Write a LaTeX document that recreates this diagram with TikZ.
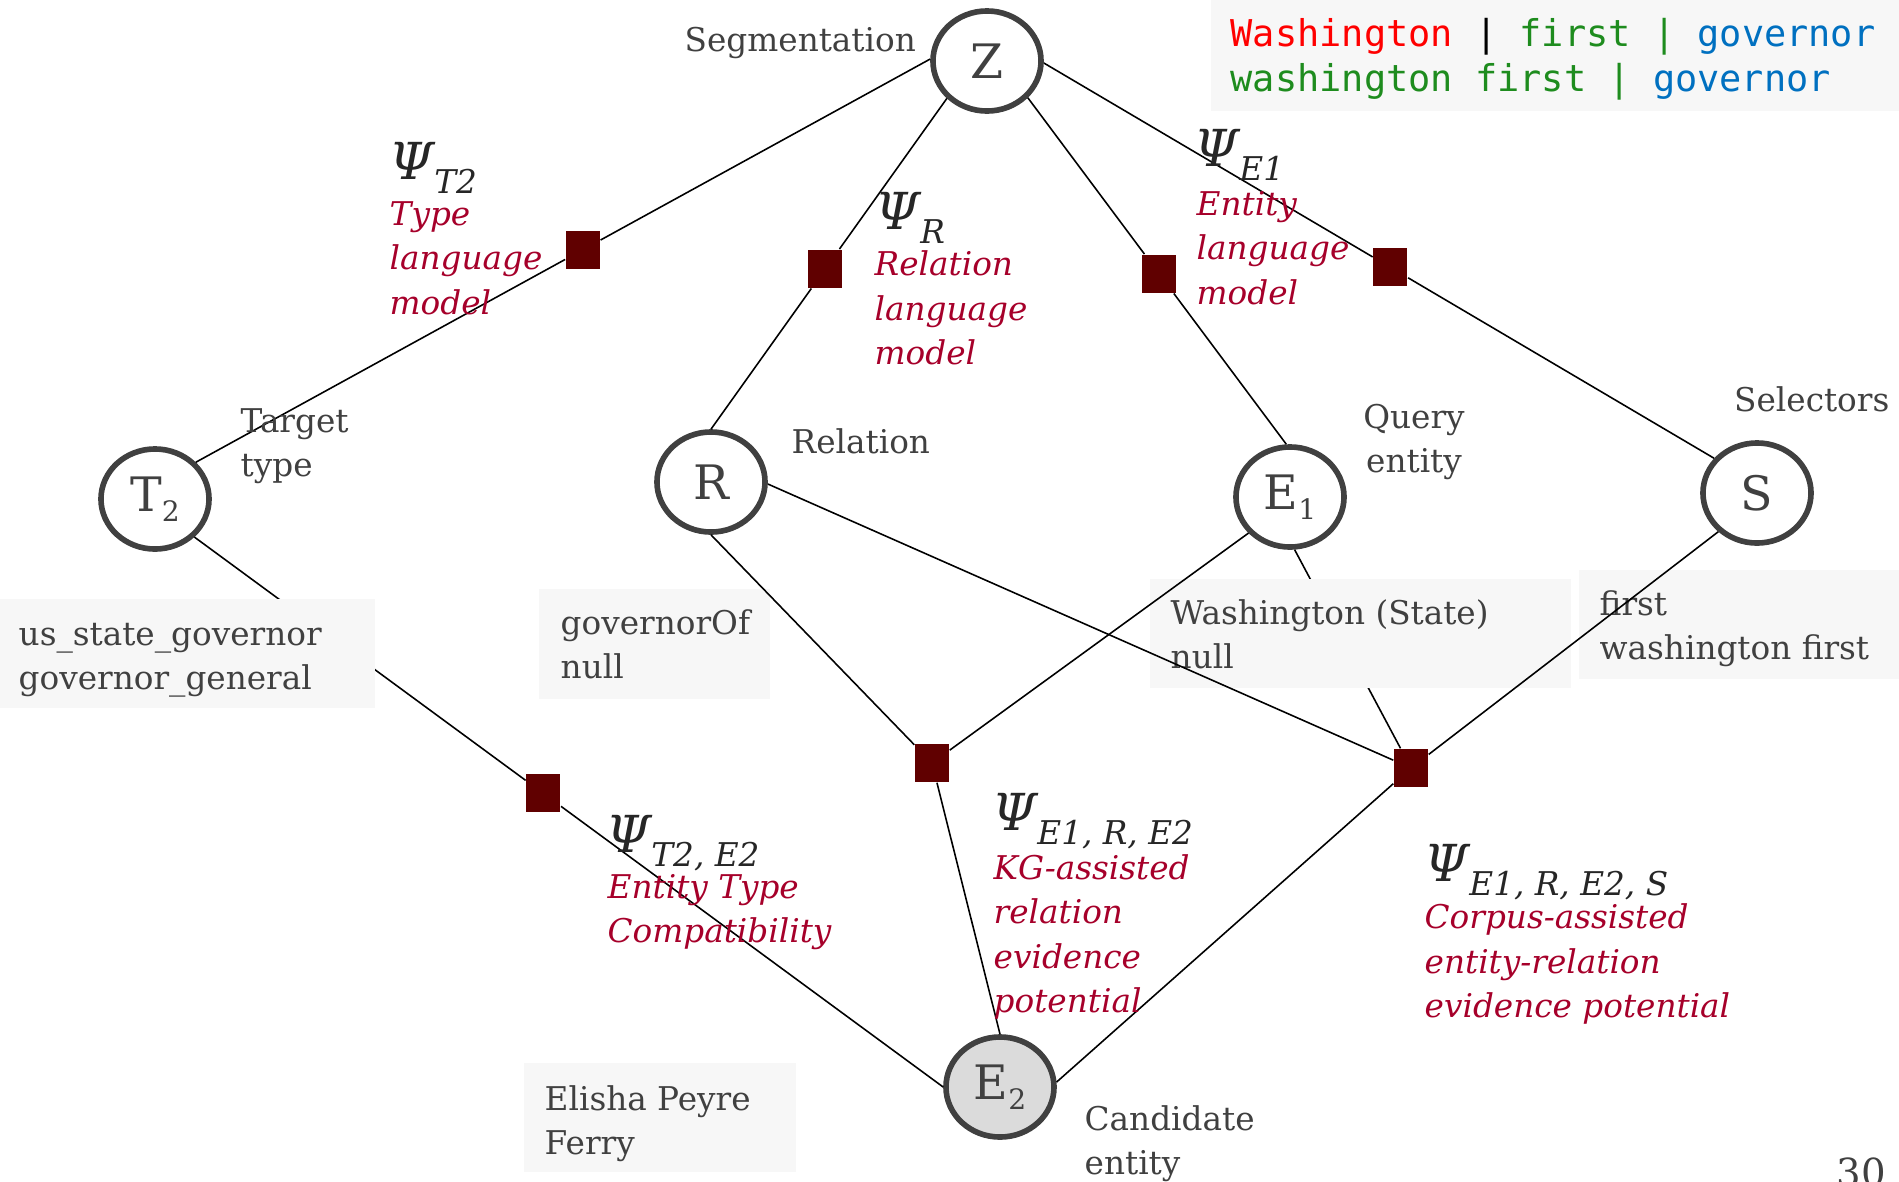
\documentclass[tikz,border=0pt]{standalone}
\usepackage{fontspec}
\setmainfont{DejaVu Serif}
\setmonofont{DejaVu Sans Mono}
\usetikzlibrary{shapes.geometric}

\definecolor{ringgray}{HTML}{404040}
\definecolor{txtgray}{HTML}{404040}
\definecolor{psigray}{HTML}{262626}
\definecolor{facred}{HTML}{600000}
\definecolor{potred}{HTML}{A6002A}
\definecolor{boxgray}{HTML}{F7F7F7}
\definecolor{e2fill}{HTML}{DBDBDB}
\definecolor{codered}{HTML}{FF0000}
\definecolor{codegreen}{HTML}{1E8C1E}
\definecolor{codeblue}{HTML}{0070C0}

\newcommand{\lblfont}{\fontsize{9.3}{12.6}\selectfont}
\newcommand{\potfont}{\fontsize{9.3}{12.6}\selectfont\itshape}
\newcommand{\varfont}{\fontsize{13.5}{14}\selectfont}
\newcommand{\codefont}{\fontsize{10.5}{12.8}\selectfont\ttfamily}
\newcommand{\msp}{\hspace{0.602em}}
\newcommand{\vsub}[1]{\raisebox{-0.4ex}{\fontsize{8}{8}\selectfont #1}}
\newcommand{\potpsi}[1]{{\fontsize{14.5}{14.5}\selectfont\itshape Ψ}\raisebox{-4pt}{\fontsize{9.3}{9.3}\selectfont\itshape #1}}

\begin{document}
\begin{tikzpicture}[x=0.01cm, y=-0.01cm,
    var/.style={ellipse, draw=ringgray, line width=1.6pt, minimum width=1.08cm,
      minimum height=1.0cm, inner sep=0pt, text=txtgray, font=\varfont},
    factor/.style={rectangle, fill=facred, minimum width=0.34cm,
      minimum height=0.38cm, inner sep=0pt},
    edge/.style={line width=0.45pt},
    valbox/.style={fill=boxgray, inner sep=0pt},
    lbl/.style={text=txtgray, font=\lblfont, align=left, inner sep=0pt},
    pot/.style={text=potred, font=\potfont, align=left, inner sep=0pt, anchor=west},
    psi/.style={text=psigray, inner sep=0pt, anchor=base west}]
  \useasboundingbox (0,0) rectangle (1899,1181);

  % variables
  \node[var] (Z) at (987,61) {Z};
  \node[var] (T2) at (155,499) {T\vsub{2}};
  \node[var] (R) at (711,482) {R};
  \node[var] (E1) at (1290,497) {E\vsub{1}};
  \node[var] (S) at (1757,493) {S};
  \node[var, fill=e2fill] (E2) at (1000,1087) {E\vsub{2}};

  % factors
  \path (Z.178) -- (T2.42) node[factor, pos=0.473] (fT2) {};
  \path (Z.223) -- (R.90) node[factor, pos=0.515] (fR) {};
  \path (Z.318) -- (E1.94) node[factor, pos=0.508] (fE1) {};
  \path (Z.358) -- (S.141) node[factor, pos=0.517] (fS) {};
  \path (T2.316) -- (E2.180) node[factor, pos=0.466] (fTE) {};
  \node[factor] (fERE) at (932,763) {};
  \node[factor] (fERES) at (1411,768) {};

  % edges behind the value boxes
  \draw[edge] (T2.316) -- (fTE) -- (E2.180);
  \draw[edge] (E1.275) -- (fERES);

  % candidate values
  \node[valbox, minimum width=3.75cm, minimum height=1.09cm] (t2box) at (187.5,653.5) {};
  \node[valbox, minimum width=2.31cm, minimum height=1.10cm] (rbox) at (654.5,644) {};
  \node[valbox, minimum width=4.21cm, minimum height=1.09cm] (e1box) at (1360.5,633.5) {};
  \node[valbox, minimum width=3.20cm, minimum height=1.09cm] (sbox) at (1739,624.5) {};
  \node[valbox, minimum width=2.72cm, minimum height=1.09cm] (e2box) at (660,1117.5) {};
  \node[valbox, minimum width=6.88cm, minimum height=1.11cm] (qbox) at (1555,55.5) {};
  \node[lbl, anchor=west] (t2vals) at (18,660) {us\_state\_governor\\governor\_general};
  \node[lbl, anchor=west] (rvals) at (560,644) {governorOf\\null};
  \node[lbl, anchor=west] (e1vals) at (1170,634) {Washington (State)\\null};
  \node[lbl, anchor=west] (svals) at (1599,629) {first\\washington first};
  \node[lbl, anchor=west] (e2vals) at (544,1124) {Elisha Peyre\\Ferry};
  \node[lbl, anchor=west, font=\codefont] (query) at (1230,59.5)
    {\textcolor{codered}{Washington}\msp\textcolor{black}{|}\msp\textcolor{codegreen}{first\msp|}\msp\textcolor{codeblue}{governor}\\
     \textcolor{codegreen}{washington\msp first\msp|}\msp\textcolor{codeblue}{governor}};

  % edges
  \draw[edge] (Z.178) -- (fT2) -- (T2.42);
  \draw[edge] (Z.223) -- (fR) -- (R.90);
  \draw[edge] (Z.318) -- (fE1) -- (E1.94);
  \draw[edge] (Z.358) -- (fS) -- (S.141);
  \draw[edge] (R.270) -- (fERE);
  \draw[edge] (E1.221) -- (fERE);
  \draw[edge] (fERE) -- (E2.90);
  \draw[edge] (R.358) -- (fERES);
  \draw[edge] (S.225) -- (fERES);
  \draw[edge] (fERES) -- (E2.5);

  % variable labels
  \node[lbl, anchor=west] (zl) at (684,43) {Segmentation};
  \node[lbl, anchor=west] (t2l) at (240,446) {Target\\type};
  \node[lbl, anchor=west] (rl) at (791,441) {Relation};
  \node[lbl, align=center] (e1l) at (1414,442) {Query\\entity};
  \node[lbl, anchor=east] (sl) at (1890,399) {Selectors};
  \node[lbl, anchor=west] (e2l) at (1084,1144) {Candidate\\entity};
  \node[lbl, anchor=base west, font=\fontsize{11}{11}\selectfont] (pageno) at (1836,1186) {30};

  % potentials
  \node[psi] (pT2) at (389,179) {\potpsi{T2}};
  \node[pot] (dT2) at (389,258) {Type\\language\\model};
  \node[psi] (pR) at (875,229) {\potpsi{R}};
  \node[pot] (dR) at (874,308) {Relation\\language\\model};
  \node[psi] (pE1) at (1194,166) {\potpsi{E1}};
  \node[pot] (dE1) at (1196,248) {Entity\\language\\model};
  \node[psi] (pTE) at (606,852) {\potpsi{T2, E2}};
  \node[pot] (dTE) at (607,912) {Entity Type\\Compatibility};
  \node[psi] (pERE) at (992,830) {\potpsi{E1, R, E2}};
  \node[pot] (dERE) at (993,937) {KG-assisted\\relation\\evidence\\potential};
  \node[psi] (pERES) at (1424,881) {\potpsi{E1, R, E2, S}};
  \node[pot] (dERES) at (1424,964) {Corpus-assisted\\entity-relation\\evidence potential};
\end{tikzpicture}
\end{document}
